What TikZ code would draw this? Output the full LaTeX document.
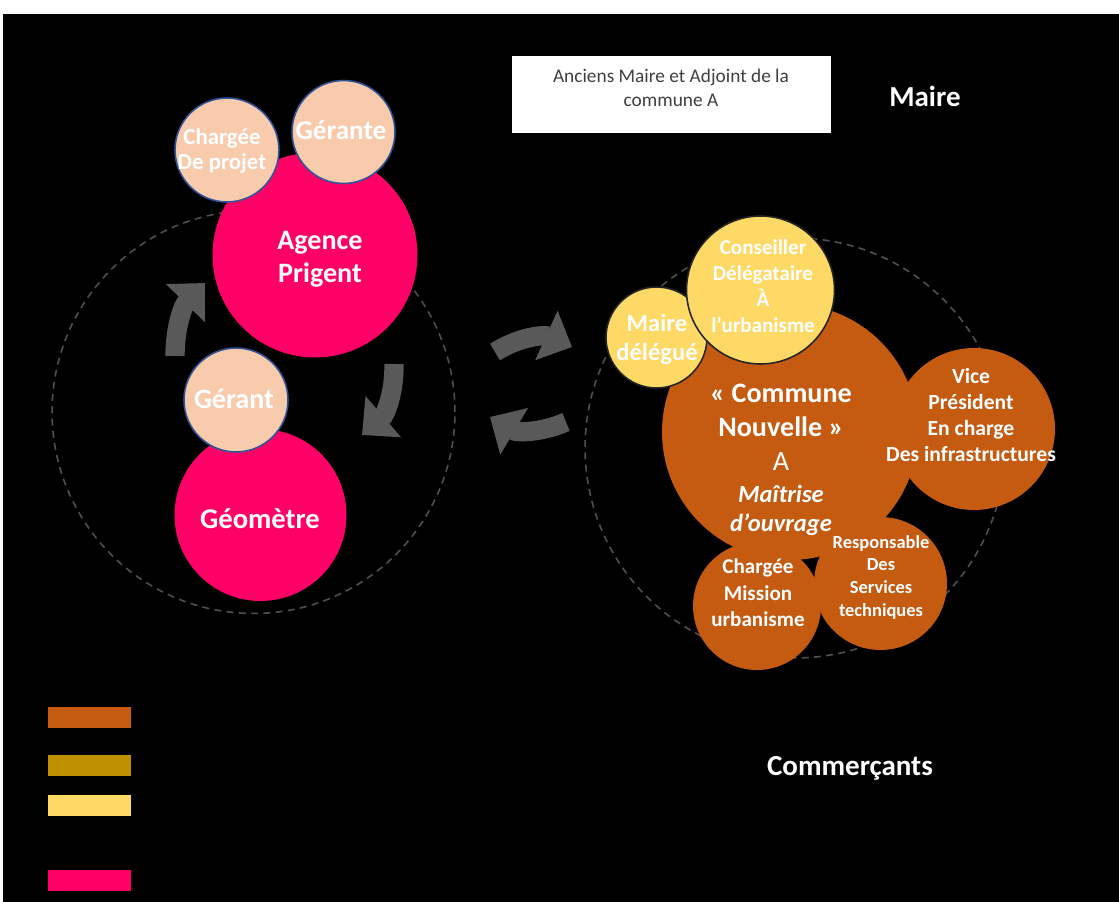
\documentclass[tikz,border=0pt]{standalone}
\usepackage{fontspec}
\setmainfont{Carlito}
\usetikzlibrary{arrows.meta}

\definecolor{rose}{HTML}{FF0066}
\definecolor{peche}{HTML}{F8CBAD}
\definecolor{bleu}{HTML}{2F5597}
\definecolor{brique}{HTML}{C55A11}
\definecolor{jaune}{HTML}{FFD966}
\definecolor{ocre}{HTML}{BF9000}
\definecolor{fleche}{HTML}{595959}
\definecolor{tiret}{HTML}{505050}
\definecolor{encre}{HTML}{404040}

\begin{document}
\begin{tikzpicture}[x=0.02cm,y=-0.02cm,
  bulle/.style={circle,inner sep=0pt,minimum size=#1},
  ring/.style={circle,inner sep=0pt,minimum size=#1,draw=tiret,dash pattern=on 4pt off 3pt,line width=0.9pt},
  rouge/.style={bulle=#1,fill=rose},
  peau/.style={bulle=#1,fill=peche,draw=bleu,line width=0.9pt},
  orange/.style={bulle=#1,fill=brique},
  soleil/.style={bulle=#1,fill=jaune,draw=black!85,line width=0.9pt},
  txt/.style args={#1/#2}{text=white,align=center,inner sep=0pt,font=\bfseries\fontsize{#1}{#2}\selectfont},
  tourne/.style={draw=fleche,line width=11pt,-{Triangle[width=30pt,length=16pt]}},
  legende/.style={inner sep=0pt,minimum width=1.66cm,minimum height=0.42cm}]

\useasboundingbox (0,0) rectangle (1119,902);
\fill[white] (0,0) rectangle (1119,902);
\fill[black] (3,14) rectangle (1119,902);

% define the dashed rings
  \node[ring=8.06cm] (ringL) at (253.5,412) {};
  \node[ring=8.40cm] (ringR) at (795,448) {};

% define the bubbles on the left
  \node[rouge=4.10cm]  (agence)   at (315,255)   {};
  \node[peau=2.08cm]   (projet)   at (227,150)   {};
  \node[peau=2.06cm]   (gerante)  at (343.5,132) {};
  \node[rouge=3.44cm]  (geometre) at (260.5,515) {};
  \node[peau=2.08cm]   (gerant)   at (236,400)   {};

% define the bubbles on the right
  \node[orange=5.12cm] (commune)  at (790,432)   {};
  \node[orange=3.24cm] (vice)     at (974,429)   {};
  \node[orange=2.56cm] (mission)  at (757,606)   {};
  \node[orange=2.66cm] (services) at (880.5,583.5) {};
  \node[soleil=2.02cm] (delegue)  at (656.5,337.5) {};
  \node[soleil=2.96cm] (conseil)  at (760.5,290)   {};

% the texts
  \node[txt=16/18.7] at (320,259)   {Agence\\Prigent};
  \node[txt=13/14.7] at (222,151)   {Chargée\\De projet};
  \node[txt=15.5/18] at (341,130)   {Gérante};
  \node[txt=16/18] at (234,399)     {Gérant};
  \node[txt=16.3/18] at (260,519)   {Géomètre};
  \node[txt=16/19.4] at (781,460)   {« Commune\\Nouvelle »\\{\mdseries A}\\[-1pt]{\fontsize{14}{16}\selectfont\itshape Maîtrise}\\[-3pt]{\fontsize{14}{16}\selectfont\itshape d’ouvrage}};
  \node[txt=12.3/14.9] at (971,415) {Vice\\Président\\En charge\\Des infrastructures};
  \node[txt=12/15] at (758,593)     {Chargée\\Mission\\urbanisme};
  \node[txt=10.5/12.9] at (881,577) {Responsable\\Des\\Services\\techniques};
  \node[txt=14/16.5] at (657,339)   {Maire\\délégué};
  \node[txt=12/14.9] at (763,286)   {Conseiller\\Délégataire\\À\\l’urbanisme};

% top labels
  \node[fill=white,minimum width=6.38cm,minimum height=1.54cm,inner sep=0pt] (anciens) at (671.5,94.5) {};
  \node[text=encre,align=center,font=\fontsize{11}{14}\selectfont] at (671,88) {Anciens Maire et Adjoint de la\\commune A};
  \node[txt=16.5/18] (maire) at (925,96) {Maire};
  \node[txt=16.5/18] (commercants) at (850,768) {Commerçants};

% the turning arrows
  \coordinate (a1) at (175,356);  \coordinate (b1) at (205,283);
  \coordinate (a2) at (394,364);  \coordinate (b2) at (362,435);
  \coordinate (a3) at (495,352);  \coordinate (b3) at (572,347);
  \coordinate (a4) at (566,422);  \coordinate (b4) at (490,417);
  \draw[tourne] (a1) to[bend left=22] (b1);
  \draw[tourne] (a2) to[bend left=25] (b2);
  \draw[tourne] (a3) to[bend left=28] (b3);
  \draw[tourne] (a4) to[bend left=27] (b4);

% the legend
  \node[legende,fill=brique] (l1) at (89.5,717.5) {};
  \node[legende,fill=ocre]   (l2) at (89.5,765)   {};
  \node[legende,fill=jaune]  (l3) at (89.5,805)   {};
  \node[legende,fill=rose]   (l4) at (89.5,880)   {};
\end{tikzpicture}
\end{document}
